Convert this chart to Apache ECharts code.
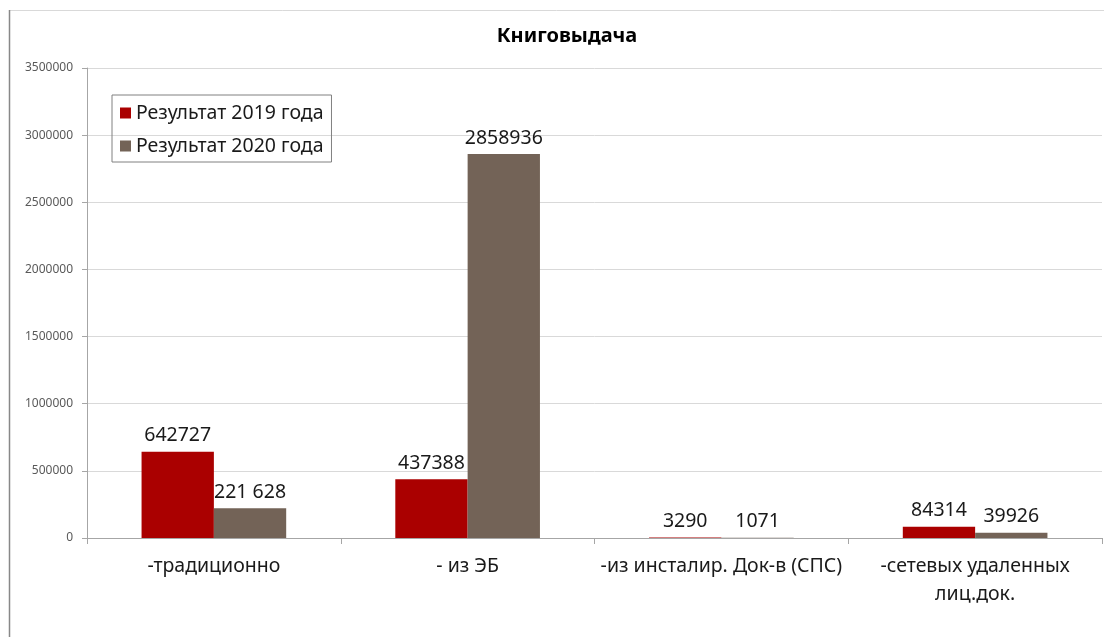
<!DOCTYPE html>
<html>
<head>
<meta charset="utf-8">
<script src="https://cdn.jsdelivr.net/npm/echarts@6/dist/echarts.min.js"></script>
<style>
html,body{margin:0;padding:0;background:#fff;}
#chart{width:1104px;height:637px;}
</style>
</head>
<body>
<div id="chart"></div>
<script>
const categories = ['-традиционно', '- из ЭБ', '-из инсталир. Док-в (СПС)', '-сетевых удаленных\nлиц.док.'];
const values2019 = [642727, 437388, 3290, 84314];
const values2020 = [221628, 2858936, 1071, 39926];
const labels2019 = ['642727', '437388', '3290', '84314'];
const labels2020 = ['221 628', '2858936', '1071', '39926'];
const seriesNames = ['Результат 2019 года', 'Результат 2020 года'];
const titleText = 'Книговыдача';

const FONT = 'Noto Sans';
const chart = echarts.init(document.getElementById('chart'));
function mkLabel(arr) {
  return {
    show: true, position: 'top', distance: 6,
    fontFamily: FONT, fontSize: 19.5, color: '#1a1a1a',
    formatter: p => arr[p.dataIndex]
  };
}
chart.setOption({
  animation: false,
  backgroundColor: '#fff',
  title: {
    text: titleText, left: 562, top: 21, textAlign: 'center',
    textStyle: { fontFamily: FONT, fontSize: 20, fontWeight: 'bold', color: '#000' }
  },
  legend: {
    orient: 'vertical', left: 112, top: 95,
    padding: [8, 8, 6, 8], itemGap: 13,
    itemWidth: 11, itemHeight: 11, icon: 'rect',
    borderColor: '#808080', borderWidth: 1,
    textStyle: { fontFamily: FONT, fontSize: 19.5, color: '#1a1a1a' }
  },
  grid: { left: 87, right: 2, top: 68, bottom: 99, containLabel: false },
  xAxis: {
    type: 'category', data: categories,
    axisLine: { lineStyle: { color: '#a6a6a6' } },
    axisTick: { show: true, length: 6, lineStyle: { color: '#a6a6a6' } },
    axisLabel: { fontFamily: FONT, fontSize: 19.5, color: '#1a1a1a', margin: 14, lineHeight: 28, interval: 0 }
  },
  yAxis: {
    type: 'value', min: 0, max: 3500000, interval: 500000,
    axisLine: { show: true, lineStyle: { color: '#a6a6a6' } },
    axisTick: { show: true, length: 5, lineStyle: { color: '#a6a6a6' } },
    splitLine: { lineStyle: { color: '#d9d9d9' } },
    axisLabel: { fontFamily: FONT, fontSize: 12, color: '#595959', margin: 14, formatter: v => String(v) }
  },
  series: [
    { name: seriesNames[0], type: 'bar', data: values2019, barGap: '0%', barCategoryGap: '43%',
      itemStyle: { color: '#AA0000' }, label: mkLabel(labels2019) },
    { name: seriesNames[1], type: 'bar', data: values2020, barGap: '0%', barCategoryGap: '43%',
      itemStyle: { color: '#736357' }, label: mkLabel(labels2020) }
  ],
  graphic: [
    { type: 'line', shape: { x1: 9, y1: 10.5, x2: 1104, y2: 10.5 }, style: { stroke: '#d9d9d9', lineWidth: 1 } },
    { type: 'line', shape: { x1: 9.5, y1: 10, x2: 9.5, y2: 637 }, style: { stroke: '#888', lineWidth: 1.5 } }
  ]
});
</script>
</body>
</html>
